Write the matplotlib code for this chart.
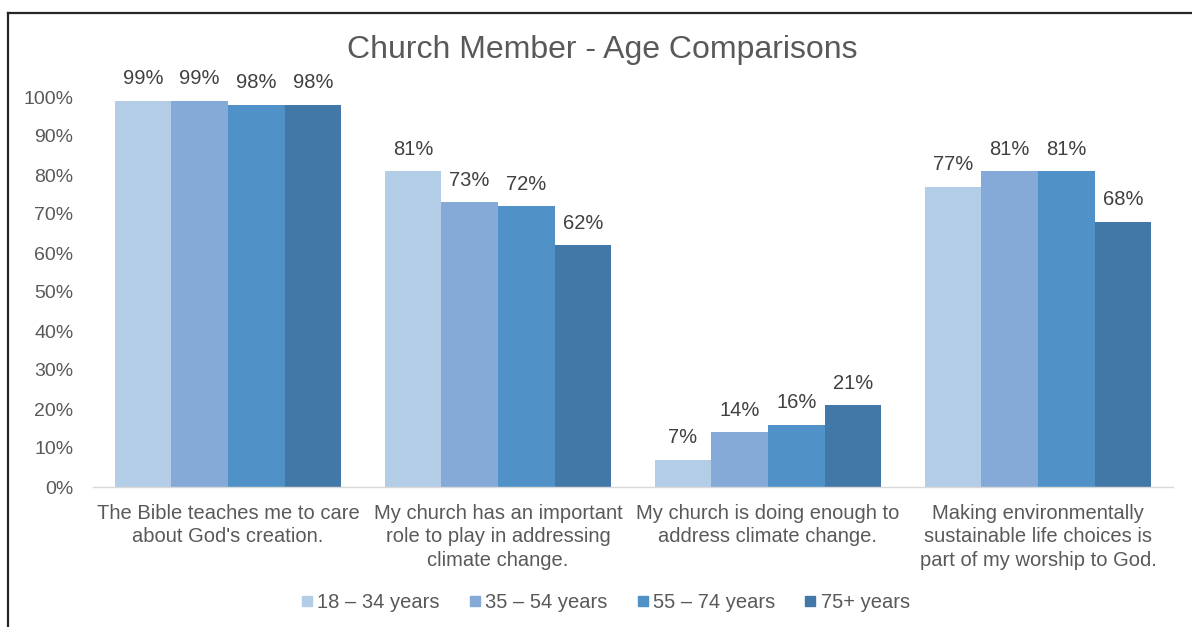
import matplotlib.pyplot as plt
from matplotlib.lines import Line2D
import numpy as np

plt.rcParams['font.family'] = ['Liberation Sans', 'DejaVu Sans']

questions = [
    "The Bible teaches me to care\nabout God's creation.",
    "My church has an important\nrole to play in addressing\nclimate change.",
    "My church is doing enough to\naddress climate change.",
    "Making environmentally\nsustainable life choices is\npart of my worship to God.",
]
ages = ["18 \u2013 34 years", "35 \u2013 54 years", "55 \u2013 74 years", "75+ years"]
age_18_34 = [99, 81, 7, 77]
age_35_54 = [99, 73, 14, 81]
age_55_74 = [98, 72, 16, 81]
age_75_up = [98, 62, 21, 68]
colours = ["#B4CDE6", "#86AAD8", "#5091C7", "#4278A8"]

W, H = 1192, 627
fig = plt.figure(figsize=(W / 100, H / 100), dpi=100)
ax = fig.add_axes([93 / W, 1 - 487 / H, (1173 - 93) / W, (487 - 97) / H])

x = np.arange(len(questions))
largeur = 0.21
series = [age_18_34, age_35_54, age_55_74, age_75_up]
for i, (vals, col) in enumerate(zip(series, colours)):
    pos = x + (i - 1.5) * largeur
    barres = ax.bar(pos, vals, largeur, color=col, label=ages[i])
    for b, v in zip(barres, vals):
        ax.annotate(f"{v}%", (b.get_x() + b.get_width() / 2, v), xytext=(0, 9),
                    textcoords="offset points", ha="center", va="bottom",
                    fontsize=14.5, color="#404040")

ax.set_xlim(-0.5, len(questions) - 0.5)
ax.set_ylim(0, 100)
ax.set_yticks(range(0, 101, 10))
ax.set_yticklabels([f"{t}%" for t in range(0, 101, 10)])
ax.set_xticks(x)
ax.set_xticklabels(questions, linespacing=1.3)
ax.tick_params(axis="y", length=0, pad=14, labelsize=14, labelcolor="#595959")
ax.tick_params(axis="x", length=0, pad=12, labelsize=14.5, labelcolor="#595959")
for s in ["top", "right", "left"]:
    ax.spines[s].set_visible(False)
ax.spines["bottom"].set_color("#D9D9D9")
ax.spines["bottom"].set_linewidth(1)

fig.text(602 / W, 1 - 50 / H, "Church Member - Age Comparisons", ha="center", va="center",
         fontsize=23, color="#595959")

poignees = [Line2D([], [], marker="s", linestyle="none", markersize=7.5, color=c) for c in colours]
fig.legend(poignees, ages, loc="center", bbox_to_anchor=(606 / W, 1 - 603 / H), ncol=4,
           frameon=False, fontsize=14.5, labelcolor="#595959", handlelength=0.5,
           handletextpad=0.25, columnspacing=1.5)

# cadre du graphique
fig.add_artist(Line2D([8 / W, 8 / W], [0, 1 - 13 / H], color="#262626", linewidth=1.6))
fig.add_artist(Line2D([8 / W, 1], [1 - 13 / H, 1 - 13 / H], color="#262626", linewidth=1.6))

fig.savefig("out.png", dpi=100)
